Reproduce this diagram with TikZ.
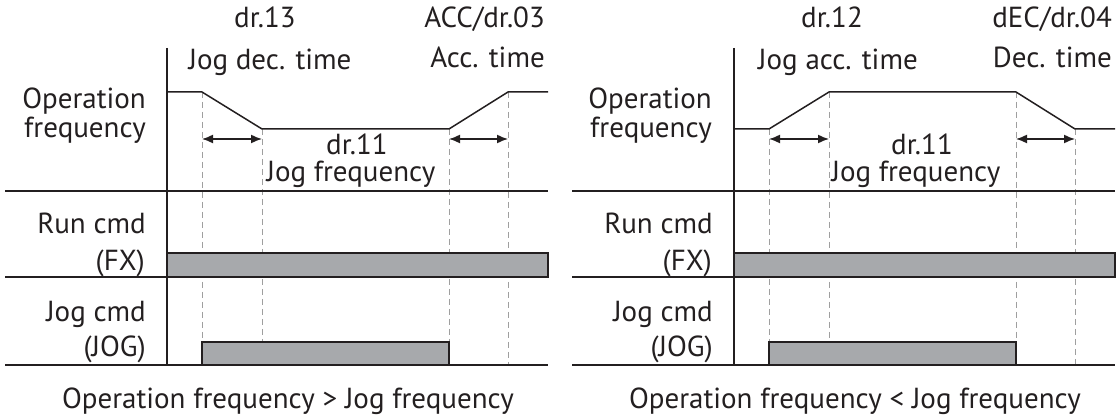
\documentclass[tikz,border=0pt]{standalone}
\usepackage{fontspec}
\setmainfont{PT Sans}
\usetikzlibrary{arrows.meta}
\definecolor{barfill}{HTML}{A7A9AC}
\definecolor{ink}{HTML}{231F20}
\begin{document}
\begin{tikzpicture}[x=1pt,y=-1pt,
  lbl/.style={font=\fontsize{29}{34}\selectfont, inner sep=0pt, text=ink},
  axisline/.style={line width=2.6pt, draw=ink},
  wave/.style={line width=1.5pt, draw=ink, line join=round},
  guide/.style={line width=1pt, draw=gray!75, dash pattern=on 6pt off 4pt},
  bar/.style={draw=ink, line width=1.6pt, fill=barfill},
  dim/.style={line width=1.5pt, draw=ink, {Latex[length=11pt,width=9pt]}-{Latex[length=11pt,width=9pt]}},
]
\useasboundingbox (0,0) rectangle (1120,419);

% ================= LEFT PANEL =================
\begin{scope}
\coordinate (La0) at (167,48);
\coordinate (La1) at (167,365);
\coordinate (Lw0) at (167,92);
\coordinate (Lw1) at (202,92);
\coordinate (Lw2) at (262,129);
\coordinate (Lw3) at (449,129);
\coordinate (Lw4) at (508,92);
\coordinate (Lw5) at (548,92);
\coordinate (Lg1) at (202,365);
\coordinate (Lg2) at (262,365);
\coordinate (Lg3) at (449,365);
\coordinate (Lg4) at (508,365);
\coordinate (Ld1) at (202,139);
\coordinate (Ld2) at (262,139);
\coordinate (Ld3) at (449,139);
\coordinate (Ld4) at (508,139);
\coordinate (Lh1a) at (5,191);   \coordinate (Lh1b) at (548,191);
\coordinate (Lh2a) at (5,277);   \coordinate (Lh2b) at (548,277);
\coordinate (Lh3a) at (5,365);   \coordinate (Lh3b) at (548,365);

\draw[guide] (Lw1) -- (Lg1);
\draw[guide] (Lw2) -- (Lg2);
\draw[guide] (Lw3) -- (Lg3);
\draw[guide] (Lw4) -- (Lg4);

\draw[bar] (167,253) rectangle (548,277);
\draw[bar] (202,342) rectangle (449,365);

\draw[wave] (Lw0) -- (Lw1) -- (Lw2) -- (Lw3) -- (Lw4) -- (Lw5);
\draw[dim] (Ld1) -- (Ld2);
\draw[dim] (Ld3) -- (Ld4);

\draw[axisline] (Lh1a) -- (Lh1b);
\draw[axisline] (Lh2a) -- (Lh2b);
\draw[axisline] (Lh3a) -- (Lh3b);
\draw[axisline] (La0) -- (La1);

\node[lbl, anchor=base] (Lt1) at (265,28) {dr.13};
\node[lbl, anchor=base] (Lt2) at (270,70) {Jog dec. time};
\node[lbl, anchor=base east] (Lt3) at (545,28) {ACC/dr.03};
\node[lbl, anchor=base east] (Lt4) at (545,68) {Acc. time};
\node[lbl, anchor=base east] (Lo1) at (146,109) {Operation};
\node[lbl, anchor=base east] (Lo2) at (146,138) {frequency};
\node[lbl, anchor=base] (Lj1) at (357,155) {dr.11};
\node[lbl, anchor=base] (Lj2) at (351,182) {Jog frequency};
\node[lbl, anchor=base east] (Lr1) at (146,234) {Run cmd};
\node[lbl, anchor=base east] (Lr2) at (145,271) {(FX)};
\node[lbl, anchor=base east] (Lc1) at (146,322) {Jog cmd};
\node[lbl, anchor=base east] (Lc2) at (146,357) {(JOG)};
\node[lbl, anchor=base] (Lcap) at (288,409) {Operation frequency > Jog frequency};
\end{scope}

% ================= RIGHT PANEL =================
\begin{scope}[xshift=567pt]
\coordinate (Ra0) at (167,48);
\coordinate (Ra1) at (167,365);
\coordinate (Rw0) at (167,129);
\coordinate (Rw1) at (202,129);
\coordinate (Rw2) at (262,92);
\coordinate (Rw3) at (449,92);
\coordinate (Rw4) at (508,129);
\coordinate (Rw5) at (548,129);
\coordinate (Rg1) at (202,365);
\coordinate (Rg2) at (262,365);
\coordinate (Rg3) at (449,365);
\coordinate (Rg4) at (508,365);
\coordinate (Rd1) at (202,139);
\coordinate (Rd2) at (262,139);
\coordinate (Rd3) at (449,139);
\coordinate (Rd4) at (508,139);
\coordinate (Rh1a) at (5,191);   \coordinate (Rh1b) at (548,191);
\coordinate (Rh2a) at (5,277);   \coordinate (Rh2b) at (548,277);
\coordinate (Rh3a) at (5,365);   \coordinate (Rh3b) at (548,365);

\draw[guide] (Rw1) -- (Rg1);
\draw[guide] (Rw2) -- (Rg2);
\draw[guide] (Rw3) -- (Rg3);
\draw[guide] (Rw4) -- (Rg4);

\draw[bar] (167,253) rectangle (548,277);
\draw[bar] (202,342) rectangle (449,365);

\draw[wave] (Rw0) -- (Rw1) -- (Rw2) -- (Rw3) -- (Rw4) -- (Rw5);
\draw[dim] (Rd1) -- (Rd2);
\draw[dim] (Rd3) -- (Rd4);

\draw[axisline] (Rh1a) -- (Rh1b);
\draw[axisline] (Rh2a) -- (Rh2b);
\draw[axisline] (Rh3a) -- (Rh3b);
\draw[axisline] (Ra0) -- (Ra1);

\node[lbl, anchor=base] (Rt1) at (265,28) {dr.12};
\node[lbl, anchor=base] (Rt2) at (271,70) {Jog acc. time};
\node[lbl, anchor=base east] (Rt3) at (545,28) {dEC/dr.04};
\node[lbl, anchor=base east] (Rt4) at (545,68) {Dec. time};
\node[lbl, anchor=base east] (Ro1) at (145,109) {Operation};
\node[lbl, anchor=base east] (Ro2) at (145,138) {frequency};
\node[lbl, anchor=base] (Rj1) at (355,155) {dr.11};
\node[lbl, anchor=base] (Rj2) at (349,182) {Jog frequency};
\node[lbl, anchor=base east] (Rr1) at (146,234) {Run cmd};
\node[lbl, anchor=base east] (Rr2) at (145,271) {(FX)};
\node[lbl, anchor=base east] (Rc1) at (146,322) {Jog cmd};
\node[lbl, anchor=base east] (Rc2) at (146,357) {(JOG)};
\node[lbl, anchor=base] (Rcap) at (288,409) {Operation frequency < Jog frequency};
\end{scope}
\end{tikzpicture}
\end{document}
